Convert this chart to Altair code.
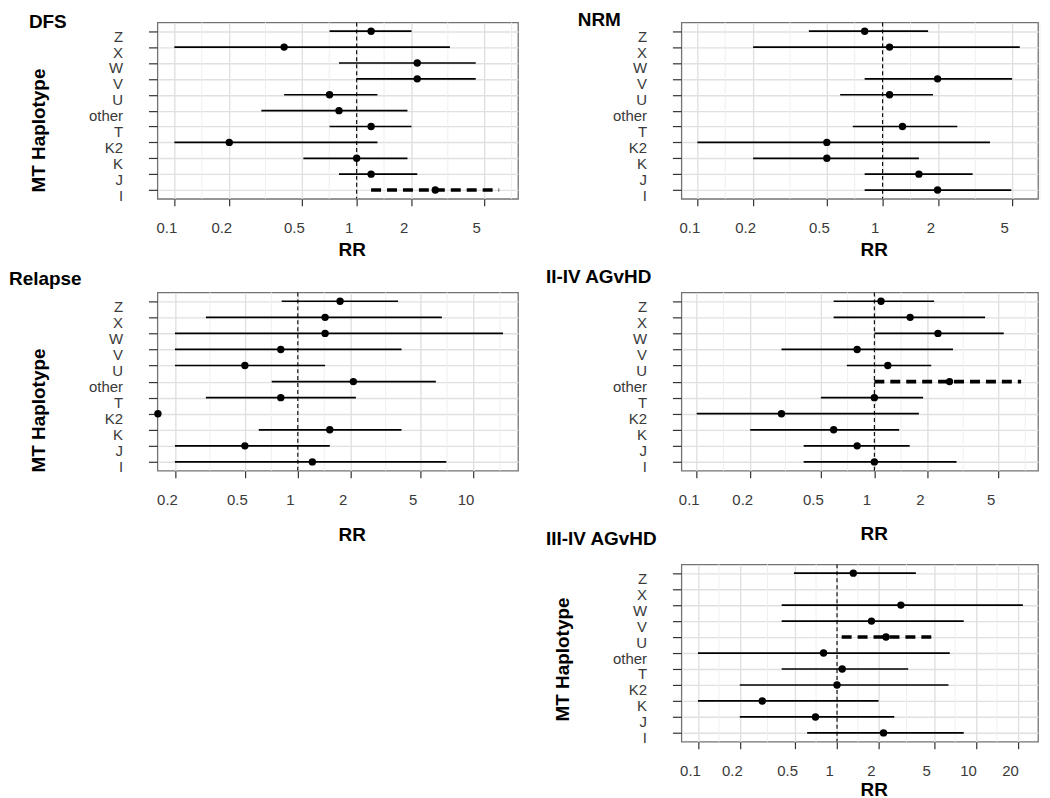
import altair as alt
import pandas as pd

CATEGORIES = ["Z", "X", "W", "V", "U", "other", "T", "K2", "K", "J", "I"]

DFS_RR = [1.2, 0.4, 2.15, 2.15, 0.71, 0.8, 1.2, 0.2, 1.0, 1.2, 2.7]
DFS_LO = [0.71, 0.1, 0.8, 1.0, 0.4, 0.3, 0.71, 0.1, 0.51, 0.8, 1.2]
DFS_HI = [2.0, 3.25, 4.5, 4.5, 1.3, 1.9, 2.0, 1.3, 1.9, 2.15, 6.05]
DFS_SIG = [0, 0, 0, 0, 0, 0, 0, 0, 0, 0, 1]

NRM_RR = [0.8, 1.09, None, 1.98, 1.09, None, 1.28, 0.5, 0.5, 1.57, 1.98]
NRM_LO = [0.4, 0.2, None, 0.8, 0.59, None, 0.69, 0.1, 0.2, 0.8, 0.8]
NRM_HI = [1.76, 5.5, None, 5.0, 1.87, None, 2.53, 3.8, 1.57, 3.06, 4.95]
NRM_SIG = [0, 0, 0, 0, 0, 0, 0, 0, 0, 0, 0]

REL_RR = [1.74, 1.43, 1.43, 0.8, 0.5, 2.07, 0.8, 0.16, 1.52, 0.5, 1.21]
REL_LO = [0.81, 0.3, 0.2, 0.2, 0.2, 0.71, 0.3, 0.16, 0.6, 0.2, 0.2]
REL_HI = [3.72, 6.6, 14.7, 3.89, 1.43, 6.1, 2.14, 0.16, 3.89, 1.52, 7.0]
REL_SIG = [0, 0, 0, 0, 0, 0, 0, 0, 0, 0, 0]

AG24_RR = [1.09, 1.59, 2.28, 0.8, 1.19, 2.65, 1.0, 0.3, 0.59, 0.8, 1.0]
AG24_LO = [0.59, 0.59, 1.0, 0.3, 0.7, 1.0, 0.5, 0.1, 0.2, 0.4, 0.4]
AG24_HI = [2.17, 4.2, 5.35, 2.77, 2.09, 6.7, 1.88, 1.78, 1.38, 1.58, 2.9]
AG24_SIG = [0, 0, 0, 0, 0, 1, 0, 0, 0, 0, 0]

AG34_RR = [1.31, None, 2.88, 1.77, 2.25, 0.8, 1.09, 1.0, 0.29, 0.7, 2.16]
AG34_LO = [0.49, None, 0.4, 0.4, 1.08, 0.1, 0.4, 0.2, 0.1, 0.2, 0.61]
AG34_HI = [3.69, None, 21.7, 8.15, 4.86, 6.47, 3.25, 6.33, 1.99, 2.58, 8.15]
AG34_SIG = [0, 0, 0, 0, 1, 0, 0, 0, 0, 0, 0]

TICKS_A = [0.1, 0.2, 0.5, 1, 2, 5]
MINOR_A = [0.1414, 0.3162, 0.7071, 1.414, 3.162, 7.071]
TICKS_REL = [0.2, 0.5, 1, 2, 5, 10]
MINOR_REL = [0.3162, 0.7071, 1.414, 3.162, 7.071, 14.14]
TICKS_34 = [0.1, 0.2, 0.5, 1, 2, 5, 10, 20]
MINOR_34 = [0.1414, 0.3162, 0.7071, 1.414, 3.162, 7.071, 14.14]

REF_LINE = [1]

FONT = "Liberation Sans"


def panel(title, rr, lo, hi, sig, domain, ticks, minors, width, height,
          ytitle, ytitle_y, title_dx, title_dy, rr_y):
    df = pd.DataFrame({"cat": CATEGORIES, "rr": rr, "lo": lo, "hi": hi, "sig": sig}).dropna()
    xscale = alt.Scale(type="log", domain=domain, nice=False)
    yscale = alt.Scale(type="point", domain=CATEGORIES, padding=0.55)
    xaxis = alt.Axis(
        title="RR", values=ticks, format="~g", grid=True, labelOffset=-8,
        labelPadding=15, tickSize=7, labelFlush=False, labelOverlap=False,
        titleX=width / 2 + 14, titleY=rr_y, titleBaseline="alphabetic",
    )
    yaxis_kwargs = dict(grid=True, tickSize=9, labelPadding=26, labelOffset=5)
    if ytitle:
        yaxis = alt.Axis(title="MT Haplotype", titleX=-119, titleY=ytitle_y,
                         titleBaseline="middle", titleAngle=-90, **yaxis_kwargs)
    else:
        yaxis = alt.Axis(title=None, **yaxis_kwargs)

    minor = alt.Chart(pd.DataFrame({"v": minors})).mark_rule(
        color="#efefef", strokeWidth=1
    ).encode(
        x=alt.X("v:Q", scale=xscale, axis=xaxis)
    )
    vline = alt.Chart(pd.DataFrame({"one": REF_LINE})).mark_rule(
        color="black", strokeWidth=1.1, strokeDash=[4, 3]
    ).encode(x=alt.X("one:Q", scale=xscale, axis=xaxis))

    base = alt.Chart(df).encode(
        y=alt.Y("cat:N", scale=yscale, axis=yaxis),
    )
    ci = base.transform_filter("datum.sig == 0").mark_rule(
        color="black", strokeWidth=1.7
    ).encode(
        x=alt.X("lo:Q", scale=xscale, axis=xaxis), x2="hi:Q"
    )
    ci_sig = base.transform_filter("datum.sig == 1").mark_rule(
        color="black", strokeWidth=3.6, strokeDash=[10, 6]
    ).encode(
        x=alt.X("lo:Q", scale=xscale, axis=xaxis), x2="hi:Q"
    )
    pts = base.mark_point(filled=True, size=55, color="black", opacity=1).encode(
        x=alt.X("rr:Q", scale=xscale, axis=xaxis)
    )
    return alt.layer(minor, vline, ci, ci_sig, pts).properties(
        width=width, height=height,
        title=alt.TitleParams(
            text=title, anchor="start", frame="group", dx=title_dx, dy=title_dy,
            offset=0, fontSize=19, fontWeight="bold", baseline="alphabetic",
            color="black",
        ),
    )


dfs = panel("DFS", DFS_RR, DFS_LO, DFS_HI, DFS_SIG, [0.0807, 7.68], TICKS_A, MINOR_A,
            362, 177, True, 108, -129, 25, 57)
nrm = panel("NRM", NRM_RR, NRM_LO, NRM_HI, NRM_SIG, [0.082, 6.9], TICKS_A, MINOR_A,
            358, 177, False, 0, -104, 23, 57)
rel = panel("Relapse", REL_RR, REL_LO, REL_HI, REL_SIG, [0.159, 17.9], TICKS_REL, MINOR_REL,
            362, 179, True, 118, -149, 12, 70)
ag24 = panel("II-IV AGvHD", AG24_RR, AG24_LO, AG24_HI, AG24_SIG, [0.082, 8.34], TICKS_A, MINOR_A,
             358, 179, False, 0, -136, 10, 69)
ag34 = panel("III-IV AGvHD", AG34_RR, AG34_LO, AG34_HI, AG34_SIG, [0.076, 27.9], TICKS_34, MINOR_34,
             358, 178, True, 95, -136, 0, 54)

blank = alt.Chart(pd.DataFrame({"v": [1]})).mark_point(opacity=0).encode(
    x=alt.X("v:Q", axis=None), y=alt.Y("v:Q", axis=None)
).properties(width=362, height=178, view=alt.ViewBackground(stroke="transparent"))

chart = alt.concat(
    dfs, nrm, rel, ag24, blank, ag34,
    columns=2, spacing={"row": 94, "column": 164}, bounds="flush",
).properties(
    padding={"left": 0, "top": 0, "right": 0, "bottom": 0}
).configure(
    font=FONT
).configure_view(
    stroke="#737373", strokeWidth=1.3
).configure_axis(
    domain=False, gridColor="#e0e0e0", gridWidth=1.4, tickColor="#333333",
    tickWidth=1.2, labelFontSize=15, labelColor="#3a3a3a", labelFont=FONT,
    titleFontSize=19, titleFontWeight="bold", titleColor="black", titleFont=FONT,
)

chart.save("out.html", embed_options={"renderer": "svg", "actions": False})
